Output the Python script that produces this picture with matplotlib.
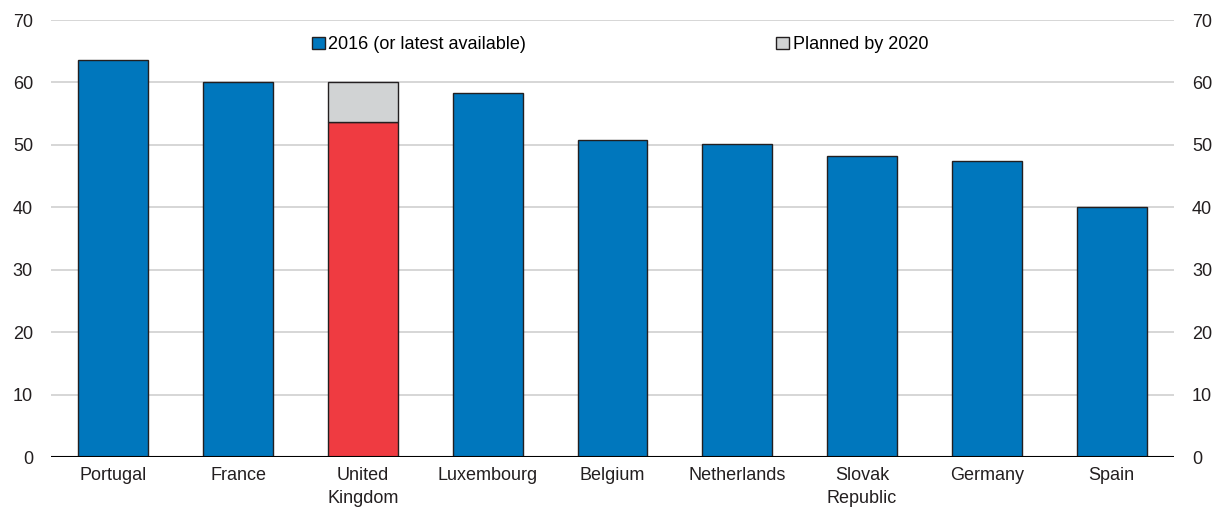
import matplotlib
matplotlib.use('agg')
import matplotlib.pyplot as plt
import matplotlib.patches as mpatches
from matplotlib import font_manager

countries = ["Portugal", "France", "United\nKingdom", "Luxembourg", "Belgium",
             "Netherlands", "Slovak\nRepublic", "Germany", "Spain"]
latest = [63.6, 60.0, 53.7, 58.3, 50.8, 50.1, 48.2, 47.4, 40.0]
planned = [0, 0, 6.3, 0, 0, 0, 0, 0, 0]
yticks = [0, 10, 20, 30, 40, 50, 60, 70]

names = {f.name for f in font_manager.fontManager.ttflist}
fam = "Liberation Sans Narrow" if "Liberation Sans Narrow" in names else "Liberation Sans"
plt.rcParams['font.family'] = [fam, 'DejaVu Sans']
plt.rcParams['font.size'] = 13

blue = '#0077bd'
red = '#ef3b41'
grey = '#d1d3d4'

fig = plt.figure(figsize=(12.21, 5.09), dpi=100)
ax = fig.add_axes([51 / 1221, 52 / 509, 1123 / 1221, 437 / 509])

x = list(range(len(countries)))
colors = [red if c.startswith("United") else blue for c in countries]
ax.bar(x, latest, width=0.56, color=colors, edgecolor='#231f20', linewidth=1.0, zorder=3)
ax.bar(x, planned, bottom=latest, width=0.56, color=grey, edgecolor='#231f20',
       linewidth=1.0, zorder=3)
# hide outlines for zero-height planned bars
for p in ax.patches[len(countries):]:
    if p.get_height() == 0:
        p.set_visible(False)

ax.set_xlim(-0.5, len(countries) - 0.5)
ax.set_ylim(0, 70)
ax.set_yticks(yticks)
ax.set_xticks(x)
ax.set_xticklabels(countries, linespacing=1.45)
for v in yticks[1:]:
    ax.axhline(v, color='#d0d0d0', linewidth=1.2, zorder=1)
ax.axhline(0, color='black', linewidth=1.5, zorder=4)

for s in ax.spines.values():
    s.set_visible(False)
ax.tick_params(axis='both', length=0, colors='#231f20', labelsize=13)
ax.tick_params(axis='y', pad=13)
ax.tick_params(axis='x', pad=7)
ax2 = ax.twinx()
ax2.set_ylim(0, 70)
ax2.set_yticks(yticks)
for s in ax2.spines.values():
    s.set_visible(False)
ax2.tick_params(axis='y', length=0, pad=13, labelsize=13, colors='#231f20')

h1 = mpatches.Patch(facecolor=blue, edgecolor='#231f20', label='2016 (or latest available)')
h2 = mpatches.Patch(facecolor=grey, edgecolor='#231f20', label='Planned by 2020')
ax.legend(handles=[h1, h2], ncol=2, loc='upper left', bbox_to_anchor=(0.218, 1.0),
          frameon=False, handlelength=0.7, handleheight=0.7, handletextpad=0.2,
          columnspacing=13.85, fontsize=13)

plt.savefig('out.png', dpi=100)
plt.close()
